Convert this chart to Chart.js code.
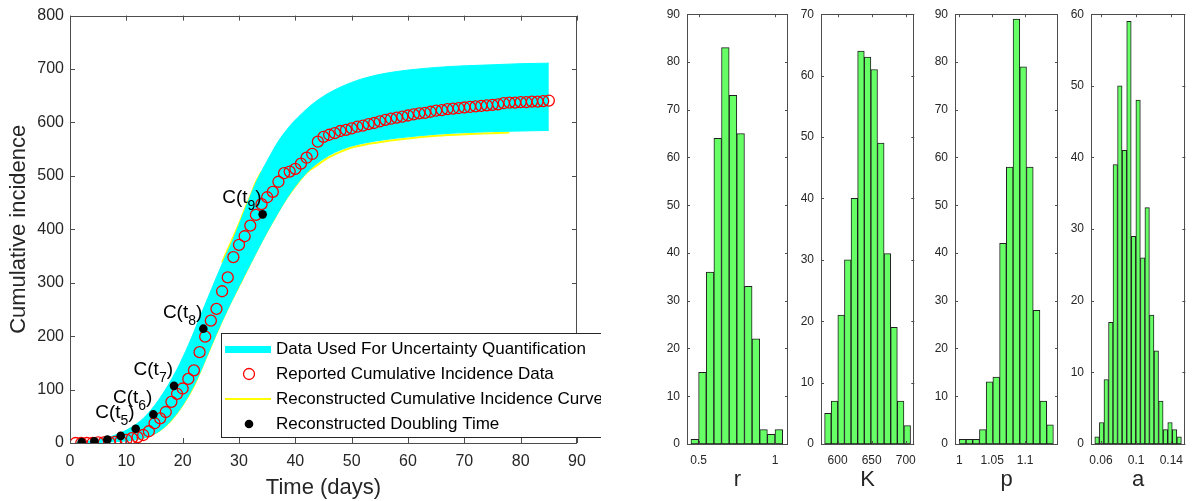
<!DOCTYPE html>
<html>
<head>
<meta charset="utf-8">
<script src="https://cdn.jsdelivr.net/npm/chart.js@4.4.0/dist/chart.umd.min.js"></script>
<style>
  body { margin: 0; background: #fff; width: 1192px; height: 501px; position: relative; overflow: hidden; }
  canvas { position: absolute; top: 0; }
</style>
</head>
<body>
<canvas id="curveChart" width="601" height="501" style="left:0"></canvas>
<canvas id="histR" width="152" height="501" style="left:640px"></canvas>
<canvas id="histK" width="133" height="501" style="left:792px"></canvas>
<canvas id="histP" width="135" height="501" style="left:925px"></canvas>
<canvas id="histA" width="132" height="501" style="left:1060px"></canvas>
<script>
// reported cumulative incidence, day 1..85
const reported = [0, 0, 0, 0, 1, 1, 1, 2, 4, 6, 9, 11, 15, 22, 37, 46, 58, 77, 92, 102,
  120, 136, 170, 199, 229, 251, 284, 310, 348, 371, 387, 407, 427, 447, 460, 470, 489, 505, 508, 513,
  523, 534, 541, 564, 573, 577, 580, 584, 586, 589, 592, 594, 597, 599, 602, 605, 607, 609, 611, 613,
  615, 617, 618, 620, 622, 623, 625, 626, 627, 628, 629, 630, 631, 632, 633, 634, 636, 637, 637, 638,
  638, 639, 639, 640, 641];

// uncertainty band (upper / lower envelope)
const bandDays = [1, 3, 5, 7, 9, 11, 13, 15, 17, 19, 21, 23, 25, 27, 29, 31, 33, 35, 37, 39, 41, 43, 45, 47, 50, 53, 56, 60, 65, 70, 75, 80, 85];
const bandUpper = [1, 3, 6, 11, 19, 30, 46, 70, 101, 138, 183, 234, 285, 335, 382, 435, 487, 528, 565, 593, 615, 634, 649, 661, 675, 685, 692, 698, 703, 706, 708, 710, 711];
const bandLower = [0, 0, 1, 2, 3, 5, 9, 17, 32, 56, 88, 130, 180, 228, 272, 314, 355, 395, 432, 466, 494, 516, 532, 544, 556, 563, 568, 573, 578, 581, 583, 584, 585];

// reconstructed curves (yellow)
const fitLowDays = [12, 14, 16, 18, 20, 22, 24, 26, 28, 30, 32, 34, 36, 38, 40, 42, 44, 46, 48, 50, 53, 56, 60, 65, 70, 75, 78];
const fitLowVals = [7, 13, 24, 43, 71, 107, 156, 205, 252, 294, 336, 377, 415, 451, 481, 506, 521, 535, 545, 553, 560, 565, 570, 575, 578, 580, 581];
const fitHighDays = [27, 28, 29, 30, 31, 32, 33, 34];
const fitHighVals = [338, 362, 386, 410, 437, 462, 488, 508];

// doubling times
const dtTimes = [2.07, 4.32, 6.63, 9.0, 11.66, 14.8, 18.46, 23.67, 34.2];
const dtValues = [1.67, 3.34, 6.69, 13.4, 26.8, 53.5, 107, 214, 428];
const dtSubs = ['', '', '', '', '5', '6', '7', '8', '9'];

const legendNames = ['Data Used For Uncertainty Quantification', 'Reported Cumulative Incidence Data',
  'Reconstructed Cumulative Incidence Curve', 'Reconstructed Doubling Time'];

// histograms: bin centres and counts
const rBins = [0.475, 0.525, 0.575, 0.625, 0.675, 0.725, 0.775, 0.825, 0.875, 0.925, 0.975, 1.025];
const rCounts = [1, 15, 36, 64, 83, 73, 65, 33, 22, 3, 2, 3];
const kBins = [585.85, 595.55, 605.25, 614.95, 624.65, 634.35, 644.05, 653.75, 663.45, 673.15, 682.85, 692.55, 702.25];
const kCounts = [5, 7, 21, 30, 40, 64, 63, 61, 49, 31, 19, 7, 3];
const pBins = [1.0051, 1.0153, 1.0255, 1.0357, 1.0459, 1.0561, 1.0663, 1.0765, 1.0867, 1.0969, 1.1071, 1.1173, 1.1275, 1.1377];
const pCounts = [1, 1, 1, 3, 13, 14, 42, 58, 89, 79, 58, 28, 9, 4];
const aBins = [0.0555, 0.0607, 0.0659, 0.0711, 0.0762, 0.0814, 0.0866, 0.0918, 0.0970, 0.1022, 0.1074, 0.1125, 0.1177, 0.1229, 0.1281, 0.1333, 0.1385, 0.1437, 0.1489];
const aCounts = [1, 3, 9, 17, 39, 50, 41, 59, 29, 48, 26, 33, 18, 13, 6, 2, 3, 2, 1];

const mainXTicks = [0, 10, 20, 30, 40, 50, 60, 70, 80, 90];
const rTicks = [0.5, 1];
const kTicks = [600, 650, 700];
const pTicks = [1, 1.05, 1.1];
const aTicks = [0.06, 0.1, 0.14];

Chart.defaults.font.family = '"Liberation Sans", Arial, sans-serif';
Chart.defaults.color = '#262626';

const FONT = '"Liberation Sans", Arial, sans-serif';

// matlab style box with inward ticks
const matBox = {
  id: 'matBox',
  afterDatasetsDraw(chart, args, opts) {
    const {ctx, chartArea: a, scales} = chart;
    const L = opts.tick || 4;
    ctx.save();
    ctx.strokeStyle = '#4d4d4d';
    ctx.lineWidth = 1;
    ctx.beginPath();
    scales.x.ticks.forEach(t => {
      const px = Math.round(scales.x.getPixelForValue(t.value)) + 0.5;
      ctx.moveTo(px, a.bottom); ctx.lineTo(px, a.bottom - L);
      ctx.moveTo(px, a.top); ctx.lineTo(px, a.top + L);
    });
    scales.y.ticks.forEach(t => {
      const py = Math.round(scales.y.getPixelForValue(t.value)) + 0.5;
      ctx.moveTo(a.left, py); ctx.lineTo(a.left + L, py);
      ctx.moveTo(a.right, py); ctx.lineTo(a.right - L, py);
    });
    ctx.stroke();
    ctx.strokeRect(Math.round(a.left) + 0.5, Math.round(a.top) + 0.5, Math.round(a.width) - 1, Math.round(a.height));
    ctx.restore();
  }
};

// C(t_k) labels next to the doubling-time dots
const dtLabels = {
  id: 'dtLabels',
  afterDatasetsDraw(chart) {
    const ctx = chart.ctx;
    const meta = chart.getDatasetMeta(0);
    ctx.save();
    ctx.fillStyle = '#000';
    ctx.textBaseline = 'alphabetic';
    meta.data.forEach((pt, i) => {
      if (!dtSubs[i]) return;
      const big = '19px ' + FONT, small = '14px ' + FONT;
      ctx.font = big;
      const w1 = ctx.measureText('C(t').width, w3 = ctx.measureText(')').width;
      ctx.font = small;
      const w2 = ctx.measureText(dtSubs[i]).width;
      let x = pt.x - 1 - (w1 + w2 + w3);
      ctx.font = big;
      ctx.fillText('C(t', x, pt.y - 11);
      x += w1;
      ctx.font = small;
      ctx.fillText(dtSubs[i], x, pt.y - 4);
      x += w2;
      ctx.font = big;
      ctx.fillText(')', x, pt.y - 11);
    });
    ctx.restore();
  }
};

const legendBox = {
  id: 'legendBox',
  afterDraw(chart) {
    const ctx = chart.ctx;
    ctx.save();
    ctx.fillStyle = '#fff';
    ctx.fillRect(221, 333, 420, 104);
    ctx.strokeStyle = '#262626';
    ctx.lineWidth = 1;
    ctx.strokeRect(221.5, 333.5, 420, 104);
    const rows = [349.5, 374, 399, 424];
    // cyan band sample
    ctx.strokeStyle = '#00ffff'; ctx.lineWidth = 7;
    ctx.beginPath(); ctx.moveTo(225, rows[0]); ctx.lineTo(271, rows[0]); ctx.stroke();
    // red circle
    ctx.strokeStyle = '#ff0000'; ctx.lineWidth = 1.3;
    ctx.beginPath(); ctx.arc(249, rows[1], 5.5, 0, Math.PI * 2); ctx.stroke();
    // yellow line
    ctx.strokeStyle = '#ffff00'; ctx.lineWidth = 2;
    ctx.beginPath(); ctx.moveTo(225, rows[2]); ctx.lineTo(271, rows[2]); ctx.stroke();
    // black dot
    ctx.fillStyle = '#000';
    ctx.beginPath(); ctx.arc(249, rows[3], 4.3, 0, Math.PI * 2); ctx.fill();
    ctx.font = '17px ' + FONT;
    ctx.textBaseline = 'middle';
    legendNames.forEach((n, i) => ctx.fillText(n, 276, rows[i]));
    ctx.restore();
  }
};

const pts = (xs, ys) => xs.map((x, i) => ({x: x, y: ys[i]}));

new Chart(document.getElementById('curveChart'), {
  type: 'scatter',
  data: {
    datasets: [
      { data: pts(dtTimes, dtValues), pointRadius: 4.3, backgroundColor: '#000', borderWidth: 0, order: 0 },
      { data: reported.map((v, i) => ({x: i + 1, y: v})), pointRadius: 5.5, backgroundColor: 'rgba(0,0,0,0)',
        borderColor: '#ff0000', borderWidth: 1.3, order: 1 },
      { data: pts(bandDays, bandUpper), showLine: true, pointRadius: 0, borderColor: '#00ffff', borderWidth: 1,
        backgroundColor: '#00ffff', fill: '+1', cubicInterpolationMode: 'monotone', order: 2 },
      { data: pts(bandDays, bandLower), showLine: true, pointRadius: 0, borderColor: '#00ffff', borderWidth: 1,
        fill: false, cubicInterpolationMode: 'monotone', order: 3 },
      { data: pts(fitLowDays, fitLowVals), showLine: true, pointRadius: 0, borderColor: '#ffff00', borderWidth: 2,
        fill: false, cubicInterpolationMode: 'monotone', order: 4 },
      { data: pts(fitHighDays, fitHighVals), showLine: true, pointRadius: 0, borderColor: '#ffff00', borderWidth: 2,
        fill: false, cubicInterpolationMode: 'monotone', order: 5 }
    ]
  },
  options: {
    responsive: false, animation: false, devicePixelRatio: 1,
    layout: { padding: { top: 13, right: 24, left: 0, bottom: 0 } },
    plugins: { legend: { display: false }, tooltip: { enabled: false }, matBox: { tick: 5 } },
    scales: {
      x: {
        type: 'linear', min: 0, max: 90,
        grid: { display: false, drawTicks: false }, border: { display: false },
        afterBuildTicks: s => { s.ticks = mainXTicks.map(v => ({value: v})); },
        afterFit: s => { s.height = 58; },
        ticks: { font: { size: 16 }, padding: 9, autoSkip: false, maxRotation: 0 },
        title: { display: true, text: 'Time (days)', font: { size: 22 }, padding: { top: 0, bottom: 0 } }
      },
      y: {
        min: 0, max: 800,
        grid: { display: false, drawTicks: false }, border: { display: false },
        afterFit: s => { s.width = 70; },
        ticks: { stepSize: 100, font: { size: 16 }, padding: 6 },
        title: { display: true, text: 'Cumulative incidence', font: { size: 22 }, padding: { top: 6, bottom: 0 } }
      }
    }
  },
  plugins: [matBox, dtLabels, legendBox]
});

function makeHist(id, bins, counts, xMin, xMax, xTicks, yMax, yAxisW, padRight, name) {
  new Chart(document.getElementById(id), {
    type: 'bar',
    data: {
      datasets: [{
        data: pts(bins, counts), backgroundColor: '#66ff66', borderColor: '#1f1f1f', borderWidth: 1,
        borderSkipped: false, barPercentage: 1, categoryPercentage: 1
      }]
    },
    options: {
      responsive: false, animation: false, devicePixelRatio: 1,
      layout: { padding: { top: 14, right: padRight, left: 0, bottom: 0 } },
      plugins: { legend: { display: false }, tooltip: { enabled: false }, matBox: { tick: 3 } },
      scales: {
        x: {
          type: 'linear', min: xMin, max: xMax, offset: false,
          grid: { display: false, drawTicks: false }, border: { display: false },
          afterBuildTicks: s => { s.ticks = xTicks.map(v => ({value: v})); },
          afterFit: s => { s.height = 57; },
          ticks: { callback: v => String(v), font: { size: 12 }, padding: 9, autoSkip: false, maxRotation: 0 },
          title: { display: true, text: name, font: { size: 22 }, padding: { top: 0, bottom: 8 } }
        },
        y: {
          min: 0, max: yMax,
          grid: { display: false, drawTicks: false }, border: { display: false },
          afterFit: s => { s.width = yAxisW; },
          ticks: { stepSize: 10, font: { size: 12 }, padding: 7 }
        }
      }
    },
    plugins: [matBox]
  });
}

makeHist('histR', rBins, rCounts, 0.424, 1.085, rTicks, 90, 47, 4, 'r');
makeHist('histK', kBins, kCounts, 575.7, 712.6, kTicks, 70, 29, 3, 'K');
makeHist('histP', pBins, pCounts, 0.9935, 1.1498, pTicks, 90, 30, 2, 'p');
makeHist('histA', aBins, aCounts, 0.0486, 0.156, aTicks, 60, 31, 0, 'a');
</script>
</body>
</html>
